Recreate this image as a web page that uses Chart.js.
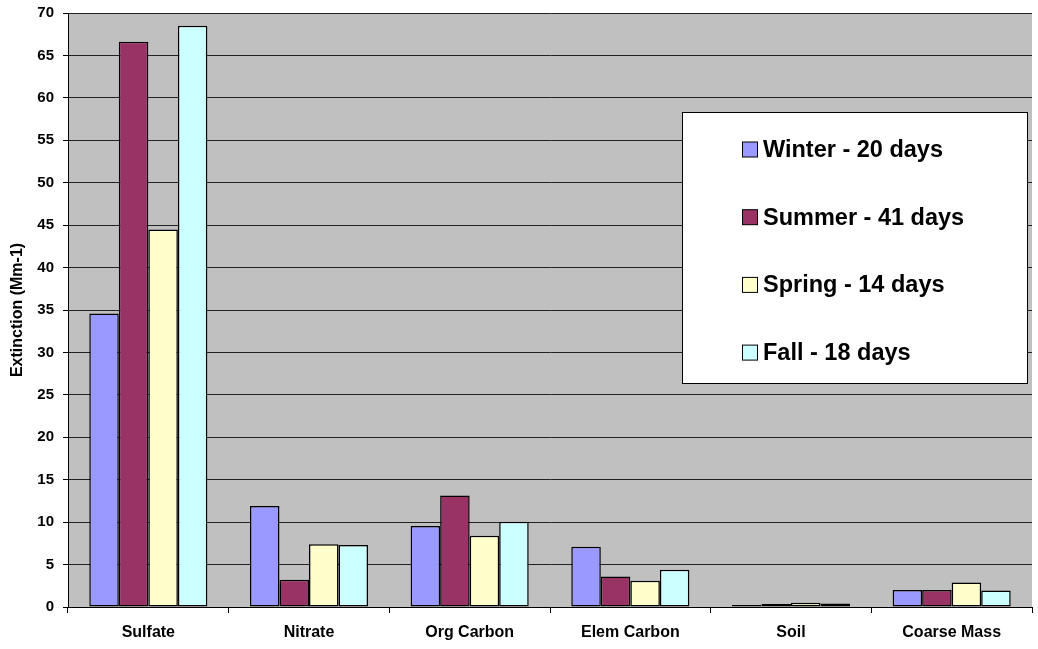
<!DOCTYPE html>
<html>
<head>
<meta charset="utf-8">
<script src="https://cdn.jsdelivr.net/npm/chart.js@4/dist/chart.umd.min.js"></script>
<style>
  html, body { margin: 0; padding: 0; background: #fff; }
  #wrap { width: 1038px; height: 649px; }
</style>
</head>
<body>
<div id="wrap"><canvas id="barChart" width="1038" height="649"></canvas></div>
<script>
// categories and series values
const categories = ['Sulfate', 'Nitrate', 'Org Carbon', 'Elem Carbon', 'Soil', 'Coarse Mass'];
const winter = [34.6, 11.9, 9.55, 7.1, 0.25, 2.0];
const summer = [66.6, 3.2, 13.15, 3.6, 0.35, 2.0];
const spring = [44.5, 7.4, 8.4, 3.1, 0.5, 2.9];
const fall = [68.5, 7.3, 10.05, 4.4, 0.4, 1.95];
const seriesLabels = ['Winter - 20 days', 'Summer - 41 days', 'Spring - 14 days', 'Fall - 18 days'];
const seriesColors = ['#9999FF', '#993366', '#FFFFCC', '#CCFFFF'];
const yMax = 70;
const yStep = 5;

const FONT = 'Liberation Sans, Arial, sans-serif';

// gray plot background
const plotBg = {
    id: 'plotBg',
    beforeDraw(chart) {
        const { ctx, chartArea: a } = chart;
        ctx.save();
        ctx.fillStyle = '#C0C0C0';
        ctx.fillRect(a.left, a.top, a.right - a.left, a.bottom - a.top);
        ctx.restore();
    }
};

// boxed legend floating inside the plot
const boxLegend = {
    id: 'boxLegend',
    afterDraw(chart) {
        const ctx = chart.ctx;
        const x = 682.5, y = 112.5, w = 345, h = 271;
        ctx.save();
        ctx.fillStyle = '#fff';
        ctx.fillRect(x, y, w, h);
        ctx.strokeStyle = '#000';
        ctx.lineWidth = 1;
        ctx.strokeRect(x, y, w, h);
        ctx.font = 'bold 23.5px ' + FONT;
        ctx.textBaseline = 'middle';
        chart.data.datasets.forEach(function (ds, i) {
            const cy = 149.5 + i * 67.7;
            ctx.fillStyle = ds.backgroundColor;
            ctx.fillRect(742.5, cy - 7.5, 15, 15);
            ctx.strokeStyle = '#000';
            ctx.lineWidth = 1;
            ctx.strokeRect(742.5, cy - 7.5, 15, 15);
            ctx.fillStyle = '#000';
            ctx.fillText(ds.label, 763, cy + 1);
        });
        ctx.restore();
    }
};

const seriesData = [winter, summer, spring, fall];
const ctx = document.getElementById('barChart').getContext('2d');
const barChart = new Chart(ctx, {
    type: 'bar',
    data: {
        labels: categories,
        datasets: seriesData.map(function (vals, i) {
            return {
                label: seriesLabels[i],
                data: vals,
                backgroundColor: seriesColors[i],
                borderColor: '#000',
                borderWidth: 1.5,
                borderSkipped: false,
                categoryPercentage: 0.735,
                barPercentage: 1.0
            };
        })
    },
    options: {
        responsive: false,
        animation: false,
        devicePixelRatio: 1,
        layout: { autoPadding: false, padding: { left: 0, top: 13, right: 6, bottom: 0 } },
        plugins: {
            legend: { display: false },
            tooltip: { enabled: false }
        },
        scales: {
            x: {
                offset: true,
                grid: {
                    offset: true,
                    drawOnChartArea: false,
                    drawTicks: true,
                    tickLength: 6,
                    color: '#000'
                },
                border: { color: '#000', width: 1 },
                ticks: {
                    color: '#000',
                    font: { family: FONT, size: 16, weight: 'bold' },
                    padding: 10,
                    maxRotation: 0
                },
                afterFit(scale) { scale.height = 42; }
            },
            y: {
                min: 0,
                max: yMax,
                ticks: {
                    stepSize: yStep,
                    color: '#000',
                    font: { family: FONT, size: 15, weight: 'bold', lineHeight: 0.5 },
                    padding: 9
                },
                grid: {
                    color: '#222',
                    lineWidth: 1,
                    tickLength: 5,
                    tickColor: '#000'
                },
                border: { color: '#000', width: 1 },
                title: {
                    display: true,
                    text: 'Extinction (Mm-1)',
                    color: '#000',
                    font: { family: FONT, size: 16, weight: 'bold' },
                    padding: { top: 8, bottom: 0 }
                },
                afterFit(scale) { scale.width = 68; }
            }
        }
    },
    plugins: [plotBg, boxLegend]
});
</script>
</body>
</html>
